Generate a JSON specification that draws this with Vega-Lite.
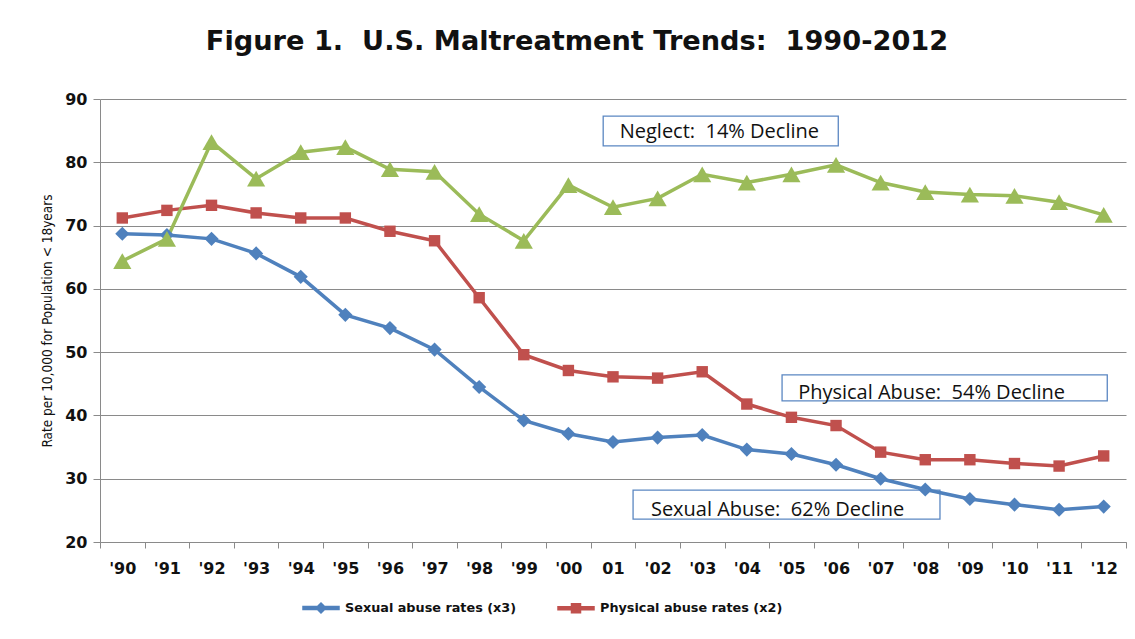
{
  "$schema": "https://vega.github.io/schema/vega-lite/v6.json",
  "autosize": {"type": "none"},
  "width": 1026,
  "height": 443,
  "padding": {"left": 100, "top": 99, "right": 9, "bottom": 97},
  "background": "white",
  "title": {
    "text": "Figure 1.\u00a0 U.S. Maltreatment Trends:\u00a0 1990-2012",
    "font": "DejaVu Sans",
    "fontWeight": "bold",
    "fontSize": 27.2,
    "color": "#111111",
    "anchor": "middle",
    "dx": -36,
    "offset": 35
  },
  "config": {
    "view": {"stroke": null},
    "axis": {
      "labelFont": "DejaVu Sans",
      "labelFontWeight": "bold",
      "labelFontSize": 16,
      "labelColor": "#111111",
      "domainColor": "#8a8a8a",
      "tickColor": "#8a8a8a",
      "gridColor": "#8a8a8a",
      "gridWidth": 1.2
    }
  },
  "datasets": {
    "boxes": [
      {"x": 2000.78, "x2": 2006.05, "y": 87.3, "y2": 82.6},
      {"x": 2004.79, "x2": 2012.08, "y": 46.4, "y2": 42.3},
      {"x": 2001.45, "x2": 2008.33, "y": 28.2, "y2": 23.6}
    ],
    "notes": [
      {"x": 2001.15, "y": 84.8, "label": "Neglect:\u00a0 14% Decline"},
      {"x": 2005.15, "y": 43.6, "label": "Physical Abuse:\u00a0 54% Decline"},
      {"x": 2001.85, "y": 25.1, "label": "Sexual Abuse:\u00a0 62% Decline"}
    ],
    "rates": [
      {"year": 1990, "series": "Sexual abuse rates (x3)", "value": 68.7},
      {"year": 1991, "series": "Sexual abuse rates (x3)", "value": 68.5},
      {"year": 1992, "series": "Sexual abuse rates (x3)", "value": 67.9},
      {"year": 1993, "series": "Sexual abuse rates (x3)", "value": 65.6},
      {"year": 1994, "series": "Sexual abuse rates (x3)", "value": 61.9},
      {"year": 1995, "series": "Sexual abuse rates (x3)", "value": 55.9},
      {"year": 1996, "series": "Sexual abuse rates (x3)", "value": 53.8},
      {"year": 1997, "series": "Sexual abuse rates (x3)", "value": 50.4},
      {"year": 1998, "series": "Sexual abuse rates (x3)", "value": 44.5},
      {"year": 1999, "series": "Sexual abuse rates (x3)", "value": 39.2},
      {"year": 2000, "series": "Sexual abuse rates (x3)", "value": 37.1},
      {"year": 2001, "series": "Sexual abuse rates (x3)", "value": 35.8},
      {"year": 2002, "series": "Sexual abuse rates (x3)", "value": 36.5},
      {"year": 2003, "series": "Sexual abuse rates (x3)", "value": 36.9},
      {"year": 2004, "series": "Sexual abuse rates (x3)", "value": 34.6},
      {"year": 2005, "series": "Sexual abuse rates (x3)", "value": 33.9},
      {"year": 2006, "series": "Sexual abuse rates (x3)", "value": 32.2},
      {"year": 2007, "series": "Sexual abuse rates (x3)", "value": 30.0},
      {"year": 2008, "series": "Sexual abuse rates (x3)", "value": 28.3},
      {"year": 2009, "series": "Sexual abuse rates (x3)", "value": 26.8},
      {"year": 2010, "series": "Sexual abuse rates (x3)", "value": 25.9},
      {"year": 2011, "series": "Sexual abuse rates (x3)", "value": 25.1},
      {"year": 2012, "series": "Sexual abuse rates (x3)", "value": 25.6},
      {"year": 1990, "series": "Physical abuse rates (x2)", "value": 71.2},
      {"year": 1991, "series": "Physical abuse rates (x2)", "value": 72.4},
      {"year": 1992, "series": "Physical abuse rates (x2)", "value": 73.2},
      {"year": 1993, "series": "Physical abuse rates (x2)", "value": 72.0},
      {"year": 1994, "series": "Physical abuse rates (x2)", "value": 71.2},
      {"year": 1995, "series": "Physical abuse rates (x2)", "value": 71.2},
      {"year": 1996, "series": "Physical abuse rates (x2)", "value": 69.1},
      {"year": 1997, "series": "Physical abuse rates (x2)", "value": 67.6},
      {"year": 1998, "series": "Physical abuse rates (x2)", "value": 58.6},
      {"year": 1999, "series": "Physical abuse rates (x2)", "value": 49.6},
      {"year": 2000, "series": "Physical abuse rates (x2)", "value": 47.1},
      {"year": 2001, "series": "Physical abuse rates (x2)", "value": 46.1},
      {"year": 2002, "series": "Physical abuse rates (x2)", "value": 45.9},
      {"year": 2003, "series": "Physical abuse rates (x2)", "value": 46.9},
      {"year": 2004, "series": "Physical abuse rates (x2)", "value": 41.8},
      {"year": 2005, "series": "Physical abuse rates (x2)", "value": 39.7},
      {"year": 2006, "series": "Physical abuse rates (x2)", "value": 38.4},
      {"year": 2007, "series": "Physical abuse rates (x2)", "value": 34.2},
      {"year": 2008, "series": "Physical abuse rates (x2)", "value": 33.0},
      {"year": 2009, "series": "Physical abuse rates (x2)", "value": 33.0},
      {"year": 2010, "series": "Physical abuse rates (x2)", "value": 32.4},
      {"year": 2011, "series": "Physical abuse rates (x2)", "value": 32.0},
      {"year": 2012, "series": "Physical abuse rates (x2)", "value": 33.6},
      {"year": 1990, "series": "Neglect", "value": 64.4},
      {"year": 1991, "series": "Neglect", "value": 67.9},
      {"year": 1992, "series": "Neglect", "value": 83.2},
      {"year": 1993, "series": "Neglect", "value": 77.4},
      {"year": 1994, "series": "Neglect", "value": 81.6},
      {"year": 1995, "series": "Neglect", "value": 82.4},
      {"year": 1996, "series": "Neglect", "value": 78.9},
      {"year": 1997, "series": "Neglect", "value": 78.5},
      {"year": 1998, "series": "Neglect", "value": 71.8},
      {"year": 1999, "series": "Neglect", "value": 67.6},
      {"year": 2000, "series": "Neglect", "value": 76.4},
      {"year": 2001, "series": "Neglect", "value": 72.9},
      {"year": 2002, "series": "Neglect", "value": 74.3},
      {"year": 2003, "series": "Neglect", "value": 78.1},
      {"year": 2004, "series": "Neglect", "value": 76.8},
      {"year": 2005, "series": "Neglect", "value": 78.1},
      {"year": 2006, "series": "Neglect", "value": 79.6},
      {"year": 2007, "series": "Neglect", "value": 76.8},
      {"year": 2008, "series": "Neglect", "value": 75.3},
      {"year": 2009, "series": "Neglect", "value": 74.9},
      {"year": 2010, "series": "Neglect", "value": 74.7},
      {"year": 2011, "series": "Neglect", "value": 73.7},
      {"year": 2012, "series": "Neglect", "value": 71.7}
    ]
  },
  "layer": [
    {
      "data": {"name": "boxes"},
      "mark": {"type": "rect", "fill": "white", "stroke": "#5b87c2", "strokeWidth": 1.3},
      "encoding": {
        "x": {"field": "x", "type": "quantitative", "scale": {"domain": [1989.5, 2012.5], "nice": false, "zero": false}},
        "x2": {"field": "x2"},
        "y": {"field": "y", "type": "quantitative", "scale": {"domain": [20, 90], "nice": false, "zero": false}},
        "y2": {"field": "y2"}
      }
    },
    {
      "data": {"name": "notes"},
      "mark": {"type": "text", "align": "left", "baseline": "middle", "font": "Open Sans", "fontSize": 20, "color": "#111111"},
      "encoding": {
        "x": {"field": "x", "type": "quantitative"},
        "y": {"field": "y", "type": "quantitative"},
        "text": {"field": "label"}
      }
    },
    {
      "data": {"name": "rates"},
      "mark": {"type": "line", "strokeWidth": 3.5},
      "encoding": {
        "x": {
          "field": "year", "type": "quantitative",
          "scale": {"domain": [1989.5, 2012.5], "nice": false, "zero": false},
          "axis": {
            "title": null,
            "grid": false,
            "values": [1989.5, 1990.5, 1991.5, 1992.5, 1993.5, 1994.5, 1995.5, 1996.5, 1997.5, 1998.5, 1999.5, 2000.5, 2001.5, 2002.5, 2003.5, 2004.5, 2005.5, 2006.5, 2007.5, 2008.5, 2009.5, 2010.5, 2011.5, 2012.5],
            "labelOffset": 22.3,
            "labelFlush": false,
            "labelOverlap": false,
            "labelPadding": 12,
            "tickSize": 6,
            "labelExpr": "datum.value > 2012 ? '' : (datum.value + 0.5 == 2001 ? '01' : \"'\" + substring(toString(datum.value + 0.5), 2, 4))"
          }
        },
        "y": {
          "field": "value", "type": "quantitative",
          "scale": {"domain": [20, 90], "nice": false, "zero": false},
          "axis": {
            "title": "Rate per 10,000 for Population < 18years",
            "titleFont": "DejaVu Sans Condensed, Liberation Sans, sans-serif",
            "titleFontSize": 13.5,
            "titleFontWeight": "normal",
            "titleColor": "#111111",
            "titlePadding": 10,
            "values": [20, 30, 40, 50, 60, 70, 80, 90],
            "tickSize": 7,
            "labelPadding": 6,
            "grid": true
          }
        },
        "color": {
          "field": "series", "type": "nominal",
          "scale": {"domain": ["Sexual abuse rates (x3)", "Physical abuse rates (x2)", "Neglect"], "range": ["#4F81BD", "#C0504D", "#9BBB59"]}
        }
      }
    },
    {
      "data": {"name": "rates"},
      "transform": [{"filter": "datum.series === 'Sexual abuse rates (x3)'"}],
      "mark": {"type": "point", "filled": true, "opacity": 1, "shape": "diamond", "size": 200},
      "encoding": {
        "x": {"field": "year", "type": "quantitative"},
        "y": {"field": "value", "type": "quantitative"},
        "color": {"field": "series", "type": "nominal"}
      }
    },
    {
      "data": {"name": "rates"},
      "transform": [{"filter": "datum.series === 'Physical abuse rates (x2)'"}],
      "mark": {"type": "point", "filled": true, "opacity": 1, "shape": "square", "size": 130},
      "encoding": {
        "x": {"field": "year", "type": "quantitative"},
        "y": {"field": "value", "type": "quantitative"},
        "color": {"field": "series", "type": "nominal"}
      }
    },
    {
      "data": {"name": "rates"},
      "transform": [{"filter": "datum.series === 'Neglect'"}],
      "mark": {"type": "point", "filled": true, "opacity": 1, "shape": "triangle-up", "size": 330},
      "encoding": {
        "x": {"field": "year", "type": "quantitative"},
        "y": {"field": "value", "type": "quantitative"},
        "color": {"field": "series", "type": "nominal"}
      }
    },
    {
      "data": {"name": "rates"},
      "transform": [{"filter": "datum.value < 0"}],
      "mark": {"type": "point", "filled": true, "opacity": 1},
      "encoding": {
        "x": {"field": "year", "type": "quantitative"},
        "y": {"field": "value", "type": "quantitative"},
        "color": {
          "field": "series", "type": "nominal",
          "legend": {
            "values": ["Sexual abuse rates (x3)", "Physical abuse rates (x2)"],
            "title": null,
            "orient": "none",
            "legendX": 210,
            "legendY": 498,
            "direction": "horizontal",
            "labelFont": "DejaVu Sans",
            "labelFontWeight": "bold",
            "labelFontSize": 12.8,
            "labelLimit": 400,
            "labelColor": "#111111",
            "symbolSize": 400,
            "symbolOpacity": 1,
            "columnPadding": 38,
            "labelOffset": 13
          }
        },
        "shape": {
          "field": "series", "type": "nominal",
          "scale": {
            "domain": ["Sexual abuse rates (x3)", "Physical abuse rates (x2)", "Neglect"],
            "range": [
              "M-1.8,-0.15L1.8,-0.15L1.8,0.15L-1.8,0.15ZM0,-0.5L0.5,0L0,0.5L-0.5,0Z",
              "M-1.8,-0.15L1.8,-0.15L1.8,0.15L-1.8,0.15ZM-0.45,-0.45L0.45,-0.45L0.45,0.45L-0.45,0.45Z",
              "M-1.8,-0.15L1.8,-0.15L1.8,0.15L-1.8,0.15ZM0,-0.5L0.5,0.4L-0.5,0.4Z"
            ]
          },
          "legend": {
            "values": ["Sexual abuse rates (x3)", "Physical abuse rates (x2)"],
            "title": null,
            "orient": "none",
            "legendX": 210,
            "legendY": 498,
            "direction": "horizontal",
            "labelFont": "DejaVu Sans",
            "labelFontWeight": "bold",
            "labelFontSize": 12.8,
            "labelLimit": 400,
            "labelColor": "#111111",
            "symbolSize": 400,
            "columnPadding": 38,
            "labelOffset": 13
          }
        }
      }
    }
  ]
}
